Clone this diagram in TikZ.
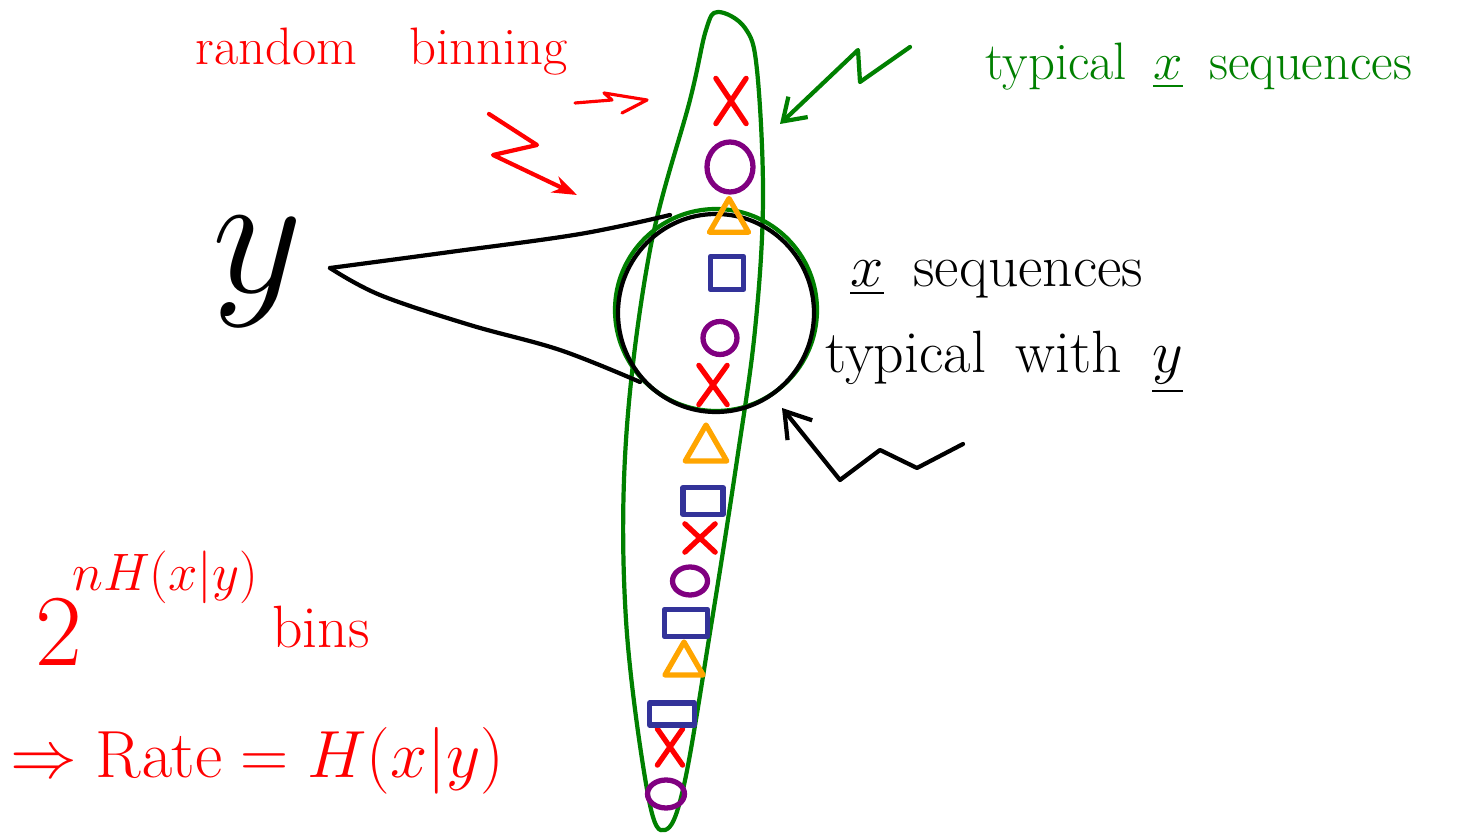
\RequirePackage{fix-cm}
\documentclass[tikz,border=0pt]{standalone}
\usepackage{amsmath}
\usetikzlibrary{arrows.meta,shapes.geometric,shapes.misc}
\definecolor{penRed}{HTML}{FF0000}
\definecolor{penGreen}{HTML}{008000}
\definecolor{penPurple}{HTML}{800080}
\definecolor{penOrange}{HTML}{FFA500}
\definecolor{penBlue}{HTML}{333399}
\definecolor{ink}{HTML}{000000}

\begin{document}
\begin{tikzpicture}[
  x=0.02cm, y=-0.02cm,
  pen/.style={line width=2.4pt, line cap=round, line join=round},
  note/.style={font=\fontsize{30}{34}\selectfont, anchor=base west, inner sep=0pt},
  crossmark/.style={cross out, draw=penRed, line width=3pt, line cap=round, inner sep=0pt},
  ringmark/.style={ellipse, draw=penPurple, line width=3pt, inner sep=0pt},
  trimark/.style={regular polygon, regular polygon sides=3, draw=penOrange, line width=3pt, line join=round, inner sep=0pt},
  boxmark/.style={rectangle, draw=penBlue, line width=3pt, line join=round, inner sep=0pt}
]
\useasboundingbox (0,0) rectangle (1475,834);
\fill[white] (0,0) rectangle (1475,834);

% ------------------------------------------------------------------
% typical set of x: the long green tube, and the y-ball
% ------------------------------------------------------------------
\draw[pen, penGreen] plot[smooth cycle, tension=0.6] coordinates {
  (718,12) (745,28) (757,70) (763,200) (755,330) (737,460) (712,620)
  (684,785) (665,830) (648,795) (626,620) (626,440) (650,250) (690,100) (706,30)};
\draw[pen, penGreen] (716,310) ellipse [x radius=101, y radius=101];
\draw[pen, ink] (716,313) ellipse [x radius=98, y radius=99];

% the y sequence and its cone onto the ball
\node[font=\fontsize{100}{100}\selectfont, inner sep=0pt] (yseq) at (258,272) {$y$};
\coordinate (apex) at (330,268);
\draw[pen, ink] plot[smooth, tension=0.6] coordinates {(apex) (450,252) (580,234) (670,215)};
\draw[pen, ink] plot[smooth, tension=0.6] coordinates {(apex) (380,295) (470,325) (560,350) (640,382)};

% ------------------------------------------------------------------
% bin labels along the tube
% ------------------------------------------------------------------
\foreach \n/\px/\py/\w/\h in {x1/731/101/0.5/0.8, x2/713/385/0.46/0.68, x3/700/538/0.5/0.46, x4/670/747/0.4/0.62}
  \node[crossmark, minimum width=\w cm, minimum height=\h cm] (\n) at (\px,\py) {};
\foreach \n/\px/\py/\w/\h in {o1/730/167/0.92/1.0, o2/720/338/0.68/0.66, o3/690/581/0.7/0.56, o4/666/794/0.74/0.56}
  \node[ringmark, minimum width=\w cm, minimum height=\h cm] (\n) at (\px,\py) {};
\foreach \n/\px/\py/\s in {t1/729/221/0.9, t2/706/449/0.96, t3/684/664/0.88}
  \node[trimark, minimum size=\s cm] (\n) at (\px,\py) {};
\foreach \n/\px/\py/\w/\h in {s1/727/273/0.66/0.66, s2/703/501/0.8/0.54, s3/686/623/0.86/0.54, s4/672/714/0.9/0.44}
  \node[boxmark, minimum width=\w cm, minimum height=\h cm] (\n) at (\px,\py) {};

% ------------------------------------------------------------------
% labels and pointers
% ------------------------------------------------------------------
\node[note, text=penRed] (binning) at (195,65) {random\quad binning};
\coordinate (binTip) at (647,100);
\draw[pen, penRed, line width=1.8pt] (575,103) -- (612,100) -- (604,93) -- (binTip) -- (622,113);
\coordinate (zigTip) at (577,195);
\draw[pen, penRed, -{Stealth[length=14pt, width=10pt]}] (489,114) -- (537,145) -- (493,155) -- (zigTip);

\node[note, text=penGreen] (typset) at (985,80) {typical\enspace\underline{$x$}\enspace sequences};
\coordinate (tubeTip) at (780,124);
\draw[pen, penGreen, -{Straight Barb[length=12pt, width=16pt]}] (910,47) -- (860,82) -- (858,50) -- (tubeTip);

\node[note, font=\fontsize{34}{38}\selectfont, text=ink] (xseq) at (850,287) {\underline{$x$}\enspace sequences};
\node[note, font=\fontsize{34}{38}\selectfont, text=ink] (withy) at (825,373) {typical\enspace with\enspace\underline{$y$}};
\coordinate (ballTip) at (782,408);
\draw[pen, ink, -{Straight Barb[length=14pt, width=18pt]}] (963,444) -- (917,468) -- (880,450) -- (840,480) -- (ballTip);

\node[note, font=\fontsize{58}{60}\selectfont, text=penRed] (two) at (35,665) {2};
\node[note, text=penRed] (expo) at (72,590) {$nH(x|y)$};
\node[note, font=\fontsize{34}{38}\selectfont, text=penRed] (bins) at (272,647) {bins};
\node[note, font=\fontsize{38}{42}\selectfont, text=penRed] (rate) at (10,777) {$\Rightarrow \mathrm{Rate} = H(x|y)$};

\end{tikzpicture}
\end{document}
